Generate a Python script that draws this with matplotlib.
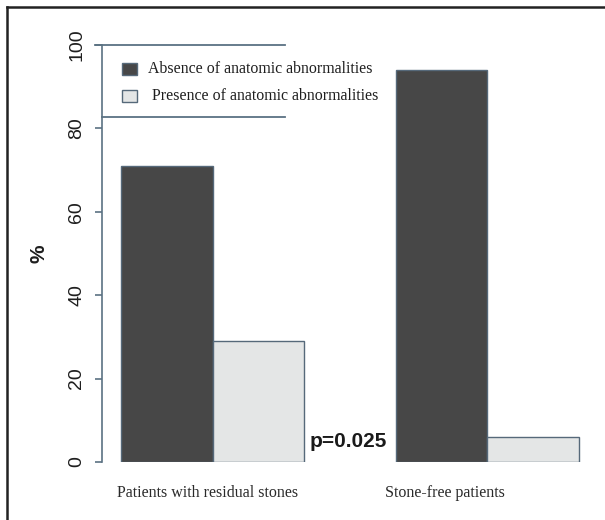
import numpy as np
import matplotlib
matplotlib.use("Agg")
from matplotlib import pyplot as plt
from matplotlib.lines import Line2D
from matplotlib.patches import Rectangle

# values (%)
groups = ["Patients with residual stones", "Stone-free patients"]
absence = [71, 94]
presence = [29, 6]
legend_labels = ["Absence of anatomic abnormalities", "Presence of anatomic abnormalities"]
p_text = "p=0.025"
y_ticks = [0, 20, 40, 60, 80, 100]

dark = "#474747"
light = "#e4e6e6"
edge = "#56697a"
axis_col = "#5b7283"

W, H = 605, 520
fig = plt.figure(figsize=(W / 100, H / 100), dpi=100)

def px(x, y):
    # pixel (from top-left) -> figure fraction
    return x / W, 1 - y / H

# axes placed so that 0..100 on y spans the same pixels as the reference
ax = fig.add_axes([102 / W, (H - 462) / H, (600 - 102) / W, (462 - 45) / H])
ax.set_ylim(0, 100)
ax.set_xlim(0.793, 6.229)

idx = np.arange(len(groups))
left_pos = 1.5 + 3 * idx
right_pos = 2.5 + 3 * idx
ax.bar(left_pos, absence, width=1.0, color=dark, edgecolor=edge, linewidth=1.0)
ax.bar(right_pos, presence, width=1.0, color=light, edgecolor=edge, linewidth=1.0)

for s in ["top", "right", "bottom"]:
    ax.spines[s].set_visible(False)
ax.spines["left"].set_color(axis_col)
ax.spines["left"].set_linewidth(1.2)
ax.spines["left"].set_bounds(0, 100)
ax.set_xticks([])
ax.set_yticks(y_ticks)
ax.set_yticklabels([str(t) for t in y_ticks], rotation=90, va="center",
                   fontsize=14, family="Liberation Sans", color="#1e1e1e")
ax.tick_params(axis="y", length=5, width=1.2, color=axis_col, pad=7)

ax.set_ylabel("%", fontsize=15, fontweight="bold", family="Liberation Sans",
              labelpad=14, color="#1e1e1e")

# group labels under bars
label_shift = [-0.06, -0.46]
for i, g in enumerate(groups):
    ax.text(2 + 3 * i + label_shift[i], -7.4, g, ha="center", va="center",
            fontsize=11.5, family="Liberation Serif", color="#2a2a2a", clip_on=False)

ax.text(right_pos[0] + 0.56, 5.0, p_text, ha="left", va="center", fontsize=15,
        fontweight="bold", family="Liberation Sans", color="#1a1a1a")

# legend drawn by hand: horizontal rules above and below
fig.add_artist(Line2D([95 / W, 285 / W], [px(0, 45)[1]] * 2, color=axis_col, lw=1.3))
fig.add_artist(Line2D([102 / W, 285 / W], [px(0, 117)[1]] * 2, color=axis_col, lw=1.3))
for k, (lab, col) in enumerate(zip(legend_labels, [dark, light])):
    yc = 69 + 27 * k
    x0, y0 = px(122, yc + 6)
    fig.add_artist(Rectangle((x0, y0), 15 / W, 12 / H, facecolor=col,
                             edgecolor=edge, lw=1.0, transform=fig.transFigure))
    fig.text(*px(148 + 4 * k, yc), lab, ha="left", va="center", fontsize=11.4,
             family="Liberation Serif", color="#1e1e1e")

# outer frame (left and top edges only visible)
fig.add_artist(Line2D([7 / W, 7 / W], [0, px(0, 7)[1]], color="#222222", lw=1.8))
fig.add_artist(Line2D([7 / W, 1], [px(0, 7)[1]] * 2, color="#222222", lw=1.8))

fig.savefig("out.png", dpi=100)
